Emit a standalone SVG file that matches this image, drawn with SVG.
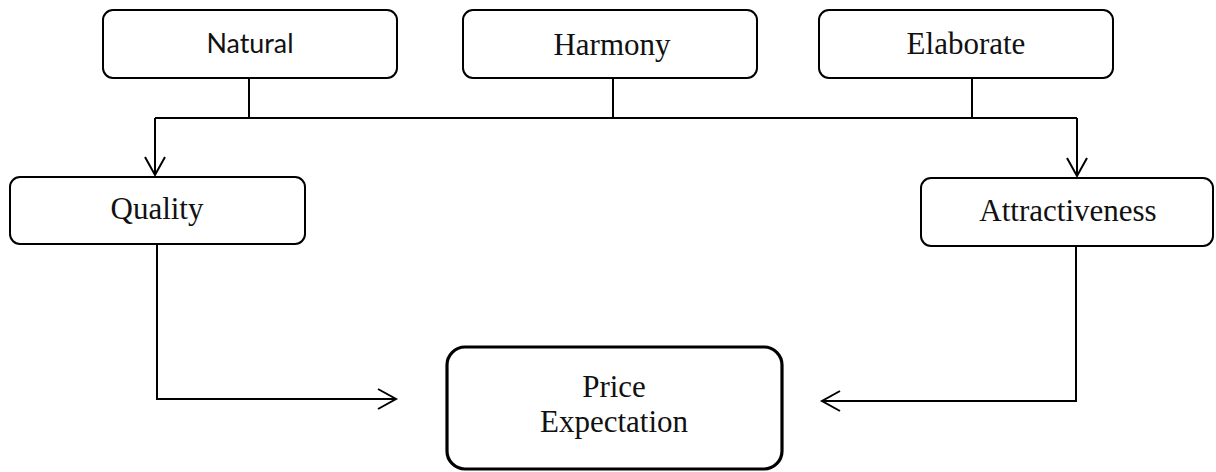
<svg xmlns="http://www.w3.org/2000/svg" width="1216" height="472" viewBox="0 0 1216 472">
<style>
.box{fill:#fff;stroke:#000;stroke-width:2}
.main{fill:#fff;stroke:#000;stroke-width:3.2}
.serif{font-family:"Liberation Serif","Times New Roman",serif;font-size:31px;fill:#111;text-anchor:middle}
.sans{font-family:Lato,"Open Sans",sans-serif;font-size:27px;fill:#111;text-anchor:middle}
.conn{fill:none;stroke:#000;stroke-width:2}
</style>
<defs>
<marker id="arr" markerUnits="userSpaceOnUse" markerWidth="24" markerHeight="26" viewBox="-20 -12 24 24" refX="0" refY="0" orient="auto">
<path d="M-18,-10 L0,0 L-18,10" fill="none" stroke="#000" stroke-width="2"/>
</marker>
</defs>
<g id="connectors">
<path class="conn" d="M249,79 V118"/>
<path class="conn" d="M613,79 V118"/>
<path class="conn" d="M972,79 V118"/>
<path class="conn" d="M155,118 H1077"/>
<path class="conn" d="M155,118 V175" marker-end="url(#arr)"/>
<path class="conn" d="M1077,118 V176" marker-end="url(#arr)"/>
<path class="conn" d="M157,245 V399 H396" marker-end="url(#arr)"/>
<path class="conn" d="M1076,246 V401 H822" marker-end="url(#arr)"/>
</g>
<g id="natural">
<rect class="box" x="103" y="10" width="294" height="68" rx="10"/>
<text class="sans" x="250" y="53" textLength="87" lengthAdjust="spacingAndGlyphs">Natural</text>
</g>
<g id="harmony">
<rect class="box" x="463" y="10" width="294" height="68" rx="10"/>
<text class="serif" x="612" y="55">Harmony</text>
</g>
<g id="elaborate">
<rect class="box" x="819" y="10" width="294" height="68" rx="10"/>
<text class="serif" x="966" y="54">Elaborate</text>
</g>
<g id="quality">
<rect class="box" x="10" y="177" width="295" height="67" rx="10"/>
<text class="serif" x="157" y="219">Quality</text>
</g>
<g id="attractiveness">
<rect class="box" x="921" y="178" width="292" height="68" rx="10"/>
<text class="serif" x="1068" y="221">Attractiveness</text>
</g>
<g id="price">
<rect class="main" x="447" y="347" width="335" height="122" rx="18"/>
<text class="serif" x="614" y="397">Price</text>
<text class="serif" x="614" y="432">Expectation</text>
</g>
</svg>
